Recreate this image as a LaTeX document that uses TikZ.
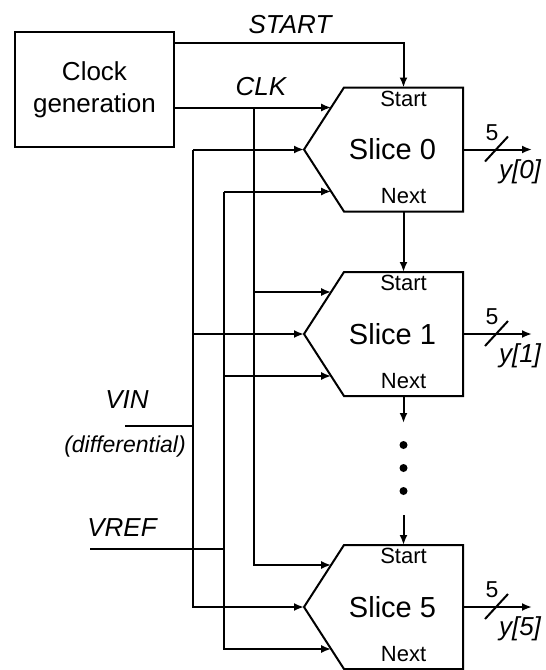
\documentclass[tikz,border=0pt]{standalone}
\usepackage{fontspec}
\setmainfont{Liberation Sans}
\usetikzlibrary{arrows.meta,positioning,calc}

% one slice: name, centre y, index
\newcommand{\slicebox}[3]{%
  \node[slicebody] (#1) at (403.5,#2) {};
  \draw[boxline] (#1.north west) -- (#1.north east) -- (#1.south east) -- (#1.south west)
    -- ($(#1.west)+(-40,0)$) -- cycle;
  \node[slicetxt] (#1-txt) at ($(#1)+(-11,0)$) {Slice #3};
  \node[pinlbl] (#1-st) at ($(#1.north)+(0,11)$) {Start};
  \node[pinlbl] (#1-nx) at ($(#1.south)+(0,-15)$) {Next};
  \coordinate (#1-a) at ($(#1.north west)+(-12.8,20)$);
  \coordinate (#1-b) at ($(#1.west)+(-40,0)$);
  \coordinate (#1-c) at ($(#1.south west)+(-12.8,-20)$);
  \coordinate (#1-y) at ($(#1.east)+(69,0)$);
  \draw[arrow] (#1.east) -- (#1-y);
  \draw[wire] ($(#1.east)+(22,12)$) -- ++(23,-25);
  \node[buslbl] (#1-w) at ($(#1.east)+(29,-17)$) {5};
  \node[outlbl] (#1-out) at ($(#1.east)+(57,22)$) {y[#3]};
}

\begin{document}
\begin{tikzpicture}[
  x=0.5pt, y=-0.5pt,
  wire/.style={line width=1pt},
  boxline/.style={line width=1pt, line join=miter},
  arrow/.style={wire, -{Latex[length=5pt, width=4pt]}},
  clkbox/.style={draw, line width=1pt, minimum width=79.5pt, minimum height=57.5pt,
    align=center, font=\fontsize{13}{16}\selectfont},
  slicebody/.style={minimum width=59.5pt, minimum height=62pt, inner sep=0pt, outer sep=0pt},
  slicetxt/.style={font=\fontsize{14.5}{17}\selectfont, inner sep=0pt},
  pinlbl/.style={font=\fontsize{11}{13}\selectfont, inner sep=0pt},
  buslbl/.style={font=\fontsize{11.5}{13}\selectfont, inner sep=0pt},
  outlbl/.style={font=\fontsize{13}{15}\itshape, inner sep=0pt},
  siglbl/.style={font=\fontsize{13}{15}\itshape, inner sep=0pt},
  dot/.style={circle, fill, inner sep=0pt, minimum size=4pt},
]
\useasboundingbox (0,0) rectangle (546,670);

% ===== Clock block and the three slices =====
\node[clkbox] (clk) at (94.5,89.5) {Clock\\generation};

\slicebox{s0}{149.5}{0}
\slicebox{s1}{334}{1}
\slicebox{s5}{607}{5}

% ===== START and CLK from the clock block =====
\coordinate (startjog) at (403.5,43);
\draw[arrow] (clk.east |- startjog) -| (s0.north);
\node[siglbl] (startlbl) at (290,25) {START};

\draw[arrow] (clk.east |- s0-a) -- (s0-a);
\node[siglbl] (clklbl) at (261,87) {CLK};

% ===== vertical buses =====
\coordinate (vinbus) at (193,0);
\coordinate (vrefbus) at (224,0);
\coordinate (clkbus) at (254,0);

\draw[arrow] (clkbus |- s0-a) |- (s5-a);
\draw[arrow] (clkbus |- s1-a) -- (s1-a);

\draw[arrow] (vinbus |- s0-b) -- (s0-b);
\draw[arrow] (vinbus |- s0-b) |- (s5-b);
\draw[arrow] (vinbus |- s1-b) -- (s1-b);

\draw[arrow] (vrefbus |- s0-c) -- (s0-c);
\draw[arrow] (vrefbus |- s0-c) |- (s5-c);
\draw[arrow] (vrefbus |- s1-c) -- (s1-c);

% ===== analog inputs =====
\coordinate (vin) at (125,426);
\draw[wire] (vin) -- (vin -| vinbus);
\node[siglbl] (vinlbl) at (127,400) {VIN};
\node[siglbl, font=\fontsize{11.5}{13}\itshape] (difflbl) at (125,447) {(differential)};

\coordinate (vref) at (90,549);
\draw[wire] (vref) -- (vref -| vrefbus);
\node[siglbl] (vreflbl) at (122,528) {VREF};

% ===== Start/Next chain =====
\draw[arrow] (s0.south) -- (s1.north);
\coordinate (gap1) at ($(s1.south)+(0,27)$);
\draw[arrow] (s1.south) -- (gap1);
\node[dot] (d1) at (403.5,445) {};
\node[dot] (d2) at (403.5,468) {};
\node[dot] (d3) at (403.5,491) {};
\coordinate (gap2) at (403.5,515);
\draw[arrow] (gap2) -- (s5.north);

\end{tikzpicture}
\end{document}
